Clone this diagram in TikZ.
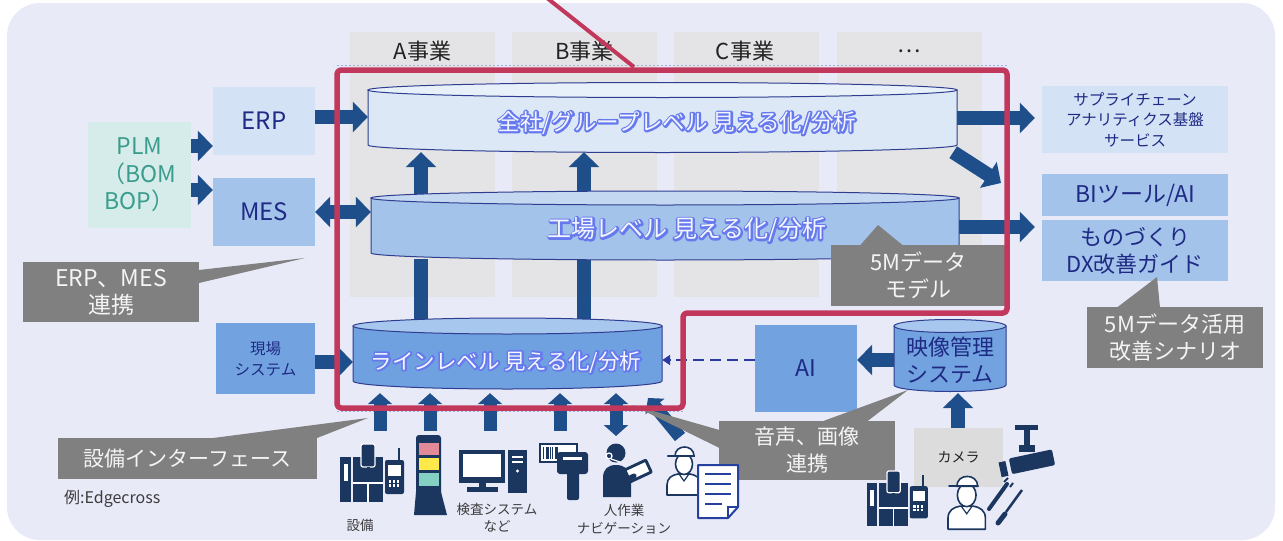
\documentclass[tikz,border=0pt]{standalone}
\usepackage{fontspec}
\setmainfont{Noto Sans CJK JP}
\usetikzlibrary{arrows.meta}

\definecolor{panel}{HTML}{E8EAF8}
\definecolor{colgray}{HTML}{E4E4E6}
\definecolor{boxlight}{HTML}{D3E2F4}
\definecolor{boxmid}{HTML}{A4C3EA}
\definecolor{boxdark}{HTML}{72A3E0}
\definecolor{plmfill}{HTML}{D5ECEA}
\definecolor{plmtext}{HTML}{3A9C8C}
\definecolor{navytext}{HTML}{1E2A84}
\definecolor{arrowblue}{HTML}{1F4F8A}
\definecolor{dashblue}{HTML}{2B3A9E}
\definecolor{framered}{HTML}{C2385C}
\definecolor{callgray}{HTML}{808080}
\definecolor{calltext}{HTML}{F4F4F4}
\definecolor{cylline}{HTML}{2E3D8F}
\definecolor{corpbody}{HTML}{DCE8F6}
\definecolor{corptop}{HTML}{E8F0FA}
\definecolor{facbody}{HTML}{A4C3EA}
\definecolor{factop}{HTML}{C4D8F1}
\definecolor{linebody}{HTML}{6FA0DF}
\definecolor{linetop}{HTML}{A8C7EE}
\definecolor{glowtext}{HTML}{F4F5FF}
\definecolor{icon}{HTML}{1B365F}
\definecolor{docblue}{HTML}{2541A0}
\definecolor{labeltext}{HTML}{3C3C3C}
\definecolor{camgray}{HTML}{DCDCDC}
\definecolor{hdrtext}{HTML}{222222}
\definecolor{lamppink}{HTML}{E38A98}
\definecolor{lampyellow}{HTML}{FFE94A}
\definecolor{lampteal}{HTML}{84D0C2}
\definecolor{thindash}{HTML}{9DB0E0}

% pale letters over a stroked blue halo
\newcommand\halotext[1]{%
  \rlap{\special{pdf:literal direct 1 Tr 3.6 w 1 j 1 J 0.40 0.48 0.93 RG}#1%
  \special{pdf:literal direct 0 Tr}}#1}

% flat cylinder: x-left, x-right, y of top ellipse, y of bottom ellipse, ry, body, top
\newcommand\drum[7]{%
  \pgfmathsetmacro\drumcx{(#1+#2)/2}%
  \pgfmathsetmacro\drumrx{(#2-#1)/2}%
  \pgfmathsetmacro\drumkx{0.552*\drumrx}%
  \pgfmathsetmacro\drumky{0.552*#5}%
  \pgfmathsetmacro\drumlow{#4+#5}%
  \filldraw[fill=#6,draw=cylline,line width=1pt]
    (#1,#3) -- (#1,#4)
    .. controls (#1,#4+\drumky) and (\drumcx-\drumkx,\drumlow) .. (\drumcx,\drumlow)
    .. controls (\drumcx+\drumkx,\drumlow) and (#2,#4+\drumky) .. (#2,#4)
    -- (#2,#3) -- cycle;
  \filldraw[fill=#7,draw=cylline,line width=1pt]
    (\drumcx,#3) ellipse [x radius=\drumrx, y radius=#5];
}

% machine pictogram
\newcommand\machineicon[3]{%
  \begin{scope}[shift={(#1,#2)}, scale=#3]
    \fill[icon] (0,14) rectangle (11,59);
    \fill[white] (3.5,21) rectangle (7.5,38);
    \fill[icon] (13,14) rectangle (43,59);
    \draw[white, line width=1.5pt] (13,40) -- (43,40) (28,40) -- (28,59);
    \filldraw[fill=icon, draw=white, line width=1.2pt, rounded corners=2pt] (21,1) rectangle (35,24);
    \draw[icon, line width=3pt] (28,24) -- (28,34);
    \fill[icon, rounded corners=2pt] (45,17) rectangle (64,51);
    \draw[icon, line width=1.8pt] (59,17) -- (59,5);
    \fill[white] (48,22) rectangle (61,33);
    \foreach \kx in {48.5,52.5,56.5} \foreach \ky in {37,41} \fill[white] (\kx,\ky) rectangle +(2.6,2.6);
  \end{scope}}

% worker pictogram (outlined)
\newcommand\workericon[3]{%
  \begin{scope}[shift={(#1,#2)}, scale=#3]
    \filldraw[fill=white, draw=icon, line width=1.6pt, line join=round]
      (0,52) -- (0,42) .. controls (0,35) and (5,32) .. (11,31) -- (23,31)
      .. controls (29,32) and (34,35) .. (34,42) -- (34,52) -- cycle;
    \draw[icon, line width=1.2pt] (12,31) -- (17,38) -- (22,31);
    \filldraw[fill=white, draw=icon, line width=1.6pt] (17,21) ellipse [x radius=8.5, y radius=10.5];
    \filldraw[fill=white, draw=icon, line width=1.6pt] (8,13) .. controls (8,1) and (27,1) .. (27,13) -- cycle;
    \draw[icon, line width=2.2pt, line cap=round] (1,13) -- (27,13);
  \end{scope}}

\begin{document}
\begin{tikzpicture}[x=1pt,y=-1pt,
  box/.style={inner sep=0pt, align=center, text=navytext},
  lightbox/.style={box, fill=boxlight},
  midbox/.style={box, fill=boxmid},
  darkbox/.style={box, fill=boxdark},
  callout/.style={fill=callgray, text=calltext, inner sep=0pt, align=center},
  colbox/.style={fill=colgray, inner sep=0pt, minimum width=145pt, minimum height=265pt},
  hdr/.style={font=\fontsize{22}{26}\selectfont, text=hdrtext, inner sep=0pt},
  drumlabel/.style={inner sep=0pt, text=glowtext, align=center},
  smalllabel/.style={font=\fontsize{13.5}{16.5}\selectfont, text=labeltext, align=center, inner sep=0pt},
  blockarrow/.style={draw=arrowblue, line width=14pt, -{Triangle[length=15pt,width=30pt]}},
  blockarrowboth/.style={draw=arrowblue, line width=14pt, {Triangle[length=15pt,width=30pt]}-{Triangle[length=15pt,width=30pt]}},
  shaft/.style={draw=arrowblue, line width=14pt},
  smallarrow/.style={draw=arrowblue, line width=13pt, -{Triangle[length=11pt,width=24pt]}},
  smallarrowboth/.style={draw=arrowblue, line width=13pt, {Triangle[length=11pt,width=24pt]}-{Triangle[length=11pt,width=24pt]}},
  aidash/.style={draw=dashblue, line width=2.5pt, dash pattern=on 11pt off 6pt, -{Triangle[length=8pt,width=10pt]}}
]
\useasboundingbox (0,0) rectangle (1283,541);
\fill[white] (0,0) rectangle (1283,541);
\fill[panel, rounded corners=33pt] (7,3) rectangle (1275,540);

% business columns
\node[colbox] (colA) at (422.5,164.5) {};
\node[colbox] (colB) at (584,164.5) {};
\node[colbox] (colC) at (746,164.5) {};
\node[colbox] (colD) at (909.5,164.5) {};
\node[hdr] (hdrA) at (422.5,51) {A事業};
\node[hdr] (hdrB) at (584.5,51) {B事業};
\node[hdr] (hdrC) at (745,51) {C事業};
\node[hdr] (hdrD) at (909,51) {…};

\draw[thindash, line width=0.8pt, dash pattern=on 2pt off 2pt]
  (337,65) -- (1008,65) (337,411.5) -- (684,411.5);

% outer systems
\node[box, fill=plmfill, text=plmtext, minimum width=103pt, minimum height=106pt,
      font=\fontsize{23}{27.5}\selectfont] (plm) at (139.5,175) {PLM\\（BOM\\BOP）};
\node[lightbox, minimum width=102pt, minimum height=68pt, font=\fontsize{24}{28}\selectfont] (erp) at (264,121) {ERP};
\node[midbox, minimum width=102pt, minimum height=68pt, font=\fontsize{24}{28}\selectfont] (mes) at (264,212) {MES};
\node[darkbox, minimum width=99pt, minimum height=71pt, font=\fontsize{15.5}{21}\selectfont] (genba) at (265.5,358.5) {現場\\システム};
\node[darkbox, minimum width=102pt, minimum height=87pt, font=\fontsize{23}{27}\selectfont] (ai) at (806,368.5) {AI};
\node[lightbox, minimum width=186pt, minimum height=67pt, font=\fontsize{15.5}{20.5}\selectfont] (supply) at (1135,119.5) {サプライチェーン\\アナリティクス基盤\\サービス};
\node[midbox, minimum width=186pt, minimum height=42pt, font=\fontsize{23}{27}\selectfont] (bi) at (1135,195) {BIツール/AI};
\node[midbox, minimum width=186pt, minimum height=61pt, font=\fontsize{22}{27}\selectfont] (dx) at (1135,250.5) {ものづくり\\DX改善ガイド};
\node[box, fill=camgray, text=hdrtext, minimum width=89pt, minimum height=59pt, font=\fontsize{14}{17}\selectfont] (camera) at (958.5,457.5) {カメラ};

% cylinder anchor nodes (span of each cylinder body)
\path node[inner sep=0pt, minimum width=589pt, minimum height=60pt] (corp) at (662.5,122) {};
\path node[inner sep=0pt, minimum width=588pt, minimum height=60pt] (factory) at (665,229) {};
\path node[inner sep=0pt, minimum width=309pt, minimum height=64pt] (line) at (507.5,361) {};
\path node[inner sep=0pt, minimum width=112pt, minimum height=66pt] (video) at (950,360) {};

% connectors
\draw[blockarrow] (plm.east |- 0,146) -- (erp.west |- 0,146);
\draw[blockarrow] (plm.east |- 0,190) -- (mes.west |- 0,190);
\draw[blockarrow] (erp.east |- 0,117) -- (corp.west |- 0,117);
\draw[blockarrowboth] (mes.east) -- (factory.west |- mes.east);
\draw[blockarrow] (factory.north -| 421,0) -- (corp.south -| 421,0);
\draw[blockarrow] (factory.north -| 584,0) -- (corp.south -| 584,0);
\draw[shaft] (line.north -| 421,0) -- (factory.south -| 421,0);
\draw[shaft] (line.north -| 584,0) -- (factory.south -| 584,0);
\coordinate (diagtip) at (1001,183);
\draw[blockarrow] ([xshift=-4pt]corp.south east) -- (diagtip);
\draw[blockarrow, shorten >=7pt] (corp.east |- 0,118) -- (supply.west |- 0,118);
\draw[blockarrow, shorten >=7pt] (factory.east |- 0,227) -- (dx.west |- 0,227);
\draw[blockarrow] (genba.east |- 0,362) -- (line.west |- 0,362);
\draw[aidash] (ai.west |- 0,360) -- (line.east |- 0,360);
\draw[blockarrow] (video.west |- 0,360) -- (ai.east |- 0,360);
\draw[blockarrow] (camera.north -| 958,0) -- (video.south -| 958,0);

\coordinate (srcA) at (380,431);
\coordinate (srcB) at (430,431);
\coordinate (srcC) at (490,431);
\coordinate (srcD) at (560,431);
\coordinate (srcE) at (616,436);
\coordinate (srcF) at (680,437);
\coordinate (navtip) at (648,398);
\draw[smallarrow] (srcA) -- (line.south -| srcA);
\draw[smallarrow] (srcB) -- (line.south -| srcB);
\draw[smallarrow] (srcC) -- (line.south -| srcC);
\draw[smallarrow] (srcD) -- (line.south -| srcD);
\draw[smallarrowboth] (srcE) -- (line.south -| srcE);
\draw[smallarrow] (srcF) -- (navtip);

% cylinders
\drum{368}{957}{90}{145}{7.5}{corpbody}{corptop}
\drum{371}{959}{198}{253}{7}{facbody}{factop}
\drum{353}{662}{326}{381}{8}{linebody}{linetop}
\drum{894}{1006}{326}{385}{6.5}{boxdark}{linetop}
\node[drumlabel, font=\fontsize{22.5}{27}\selectfont] (corptext) at (677,123) {\halotext{全社/グループレベル 見える化/分析}};
\node[drumlabel, font=\fontsize{24}{27}\selectfont] (factext) at (687,230) {\halotext{工場レベル 見える化/分析}};
\node[drumlabel, font=\fontsize{21.5}{27}\selectfont] (linetext) at (506,362) {\halotext{ラインレベル 見える化/分析}};
\node[box, font=\fontsize{22}{27}\selectfont] (videotext) at (950,360) {映像管理\\システム};

% callouts
\fill[callgray] (199,270) -- (305,258) -- (199,283) -- cycle;
\node[callout, minimum width=176pt, minimum height=60pt, font=\fontsize{23}{27}\selectfont] (callErpMes) at (111,292) {ERP、MES\\連携};
\fill[callgray] (213,438) -- (368,418) -- (317,438) -- cycle;
\node[callout, minimum width=259pt, minimum height=41pt, font=\fontsize{21}{25}\selectfont] (callIf) at (187.5,458.5) {設備インターフェース};
\fill[callgray] (860,245.5) -- (878,225) -- (903,245.5) -- cycle;
\node[callout, minimum width=175pt, minimum height=61pt, font=\fontsize{22}{27}\selectfont] (callModel) at (918.5,275.5) {5Mデータ\\モデル};
\fill[callgray] (1117,307.5) -- (1157,277) -- (1160,307.5) -- cycle;
\node[callout, minimum width=176pt, minimum height=61pt, font=\fontsize{22}{27}\selectfont] (callScen) at (1175,337.5) {5Mデータ活用\\改善シナリオ};
\fill[callgray] (822,421.5) -- (908,390) -- (867,421.5) -- cycle;
\fill[callgray] (719.5,430) -- (632,405) -- (719.5,448) -- cycle;
\node[callout, minimum width=176pt, minimum height=59pt, font=\fontsize{21}{27}\selectfont] (callAv) at (807,450.5) {音声、画像\\連携};

% field devices
\machineicon{340}{443}{1}
% signal tower
\fill[icon, rounded corners=3pt] (416,435) rectangle (441,500);
\fill[icon] (416,492) -- (441,492) -- (447,515) -- (414,515) -- cycle;
\fill[lamppink] (418.5,443) rectangle (438.5,455);
\fill[lampyellow] (418.5,458) rectangle (438.5,470);
\fill[lampteal] (418.5,473) rectangle (438.5,486);
% inspection PC
\fill[icon] (459,450) rectangle (505,483);
\fill[white] (463,454) rectangle (501,477);
\fill[icon] (479,483) rectangle (486,488);
\fill[icon] (467,487) rectangle (498,492);
\fill[icon] (508,450) rectangle (527,493);
\fill[white] (512,456) rectangle (523,458);
\fill[white] (512,461) rectangle (523,463);
\fill[white] (517.5,471) circle (1.6);
% barcode scanner
\filldraw[fill=white, draw=icon, line width=1.8pt] (540,444) rectangle (577,462);
\foreach \bx/\bw in {543/1.2,545.5/0.6,547/1.6,550/0.6,552/1.2,554.5/0.6,556/1.6}
  \fill[icon] (\bx,447) rectangle +(\bw,12);
\fill[icon, rounded corners=3pt] (557,452) rectangle (588,474);
\fill[white] (563,457) rectangle (582,460);
\fill[icon, rounded corners=2pt] (567,472) rectangle (579,500);
% operator with headset and tablet
\fill[icon] (603,497) -- (603,478) .. controls (603,469) and (608,465) .. (616,465)
  .. controls (624,465) and (630,469) .. (631,478) -- (631,497) -- cycle;
\fill[icon] (616,453) circle (9.5);
\draw[white, line width=1.3pt] (609,456) circle (3);
\draw[white, line width=1.2pt] (611,459) -- (620,462);
\begin{scope}[shift={(638,471)}, rotate=25]
  \fill[icon, rounded corners=2pt] (-13,-8) rectangle (13,8);
  \fill[white] (-10,-5) rectangle (10,5);
\end{scope}
\draw[icon, line width=5pt, line cap=round] (626,480) -- (634,476);
% worker with work instructions
\workericon{667}{443}{1}
\filldraw[fill=white, draw=docblue, line width=2pt, line join=round]
  (698,465) -- (738,465) -- (738,507) -- (728,518) -- (698,518) -- cycle;
\draw[docblue, line width=1.5pt] (738,507) -- (728,507) -- (728,518);
\draw[docblue, line width=1.6pt] (705,474) -- (731,474) (705,484) -- (731,484)
  (705,494) -- (731,494) (705,504) -- (722,504);

% video side devices
\machineicon{867}{470}{0.95}
\workericon{948}{472}{1.1}
\draw[icon, line width=4pt, line cap=round] (1007,484) -- (989,509);
\draw[icon, line width=2pt] (1004,482) -- (1008,478) (1010,487) -- (1013,483);
\draw[icon, line width=2.5pt] (1022,490) -- (1006,512);
\draw[icon, line width=5pt, line cap=round] (1005,514) -- (998,523);
% CCTV camera
\fill[icon] (1015,425) rectangle (1038,430);
\fill[icon] (1024,430) rectangle (1030,447);
\fill[icon] (1019,445) rectangle (1035,452);
\begin{scope}[shift={(1031,462)}, rotate=12]
  \fill[icon, rounded corners=2pt] (-21,-8) rectangle (23,8);
\end{scope}
\begin{scope}[shift={(1004,469)}, rotate=12]
  \fill[icon] (-4,-7.5) rectangle (3,7.5);
\end{scope}

% device labels
\node[smalllabel] (lblEq) at (360,525) {設備};
\node[smalllabel] (lblInsp) at (497,517.5) {検査システム\\など};
\node[smalllabel, font=\fontsize{13.5}{18}\selectfont] (lblNav) at (624,519) {人作業\\ナビゲーション};
\node[smalllabel, anchor=west, font=\fontsize{16}{19}\selectfont] (lblEx) at (64,499) {例:Edgecross};

% highlighted scope of the 5M data platform
\draw[framered, line width=5.5pt, rounded corners=4pt, line join=round]
  (337,70) -- (1007,70) -- (1007,313) -- (683,313) -- (683,408) -- (337,408) -- cycle;
\draw[framered, line width=4pt] (547,-2) -- (634,67);
\end{tikzpicture}
\end{document}
